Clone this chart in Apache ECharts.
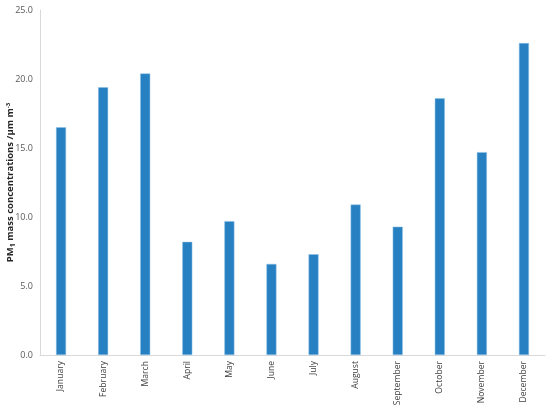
<!DOCTYPE html>
<html><head><meta charset="utf-8">
<script src="https://cdn.jsdelivr.net/npm/echarts@6/dist/echarts.min.js"></script>
<style>html,body{margin:0;padding:0;background:#fff}#c{width:550px;height:407px}</style>
</head><body><div id="c"></div>
<script>
var months = ["January","February","March","April","May","June","July","August","September","October","November","December"];
var pm1 = [16.5, 19.4, 20.4, 8.2, 9.7, 6.6, 7.3, 10.9, 9.3, 18.6, 14.7, 22.6];
var yMin = 0, yMax = 25, yStep = 5;

var chart = echarts.init(document.getElementById('c'));
chart.setOption({
  animation: false,
  grid: {left: 40, right: 5, top: 10, bottom: 52, containLabel: false, outerBoundsMode: 'none'},
  xAxis: {
    type: 'category', data: months,
    axisLine: {lineStyle: {color: '#d9d9d9', width: 1}},
    axisTick: {show: false},
    axisLabel: {rotate: 90, fontSize: 8.6, color: '#404040', fontFamily: 'Open Sans', margin: 6, interval: 0}
  },
  yAxis: {
    type: 'value', min: yMin, max: yMax, interval: yStep,
    axisLine: {show: true, lineStyle: {color: '#d9d9d9'}},
    axisTick: {show: false},
    splitLine: {show: false},
    axisLabel: {fontSize: 9, color: '#595959', fontFamily: 'Open Sans', margin: 7,
      formatter: function(v){return v.toFixed(1);}},
    name: '{a|PM}{s|1}{a| mass concentrations /µm m}{p|-3}',
    nameLocation: 'middle', nameRotate: 90, nameGap: 24, nameMoveOverlap: false,
    nameTextStyle: {
      rich: {
        a: {fontSize: 9.5, fontWeight: 'bold', color: '#262626', fontFamily: 'Open Sans'},
        s: {fontSize: 7, fontWeight: 'bold', color: '#262626', fontFamily: 'Open Sans', padding: [4,0,0,0]},
        p: {fontSize: 6, fontWeight: 'bold', color: '#262626', fontFamily: 'Open Sans', padding: [0,0,5,0]}
      }
    }
  },
  series: [{
    type: 'bar', data: pm1, barWidth: 10,
    itemStyle: {color: '#2680c2', borderColor: '#8fc0e6', borderWidth: 0.5}
  }]
});
</script></body></html>
